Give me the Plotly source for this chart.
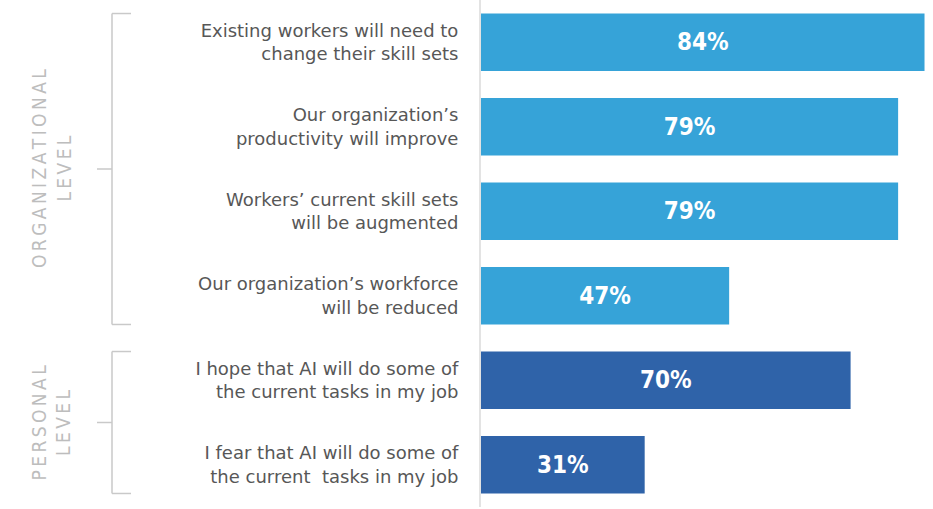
import plotly.graph_objects as go

categories = [
    "Existing workers will need to<br>change their skill sets",
    "Our organization’s<br>productivity will improve",
    "Workers’ current skill sets<br>will be augmented",
    "Our organization’s workforce<br>will be reduced",
    "I hope that AI will do some of<br>the current tasks in my job",
    "I fear that AI will do some of<br>the current  tasks in my job",
]
values = [84, 79, 79, 47, 70, 31]
value_labels = ["84%", "79%", "79%", "47%", "70%", "31%"]
groups = ["ORGANIZATIONAL LEVEL"] * 4 + ["PERSONAL LEVEL"] * 2
group_names = ["ORGANIZATIONAL", "PERSONAL"]

LIGHT = "#36A3D8"
DARK = "#2F63A9"
colors = [LIGHT if g.startswith("ORG") else DARK for g in groups]

W, H = 933, 509
ML, MR, MT, MB = 481, 0, 0, 2
PW = W - ML - MR
BARGAP = 0.32

fig = go.Figure(go.Bar(
    x=values, y=list(range(len(categories))), orientation="h",
    marker=dict(color=colors, line=dict(width=0)),
    text=value_labels, textposition="inside", insidetextanchor="middle",
    textfont=dict(family="DejaVu Sans Condensed, Liberation Sans Narrow, sans-serif",
                  size=24, color="white", weight="bold"),
    hoverinfo="skip",
))

def px2paper(px):
    return (px - ML) / PW

half = (1 - BARGAP) / 2
line_col = "#c9c9c9"
shapes = []
bracket_ranges = [(0, 3), (4, 5)]
for (i0, i1) in bracket_ranges:
    top = i0 - half
    bot = i1 + half
    mid = (i0 + i1) / 2
    xv = px2paper(112)
    xh = px2paper(131)
    xt = px2paper(97)
    for (x0, y0, x1, y1) in [(xv, top, xv, bot), (xv, top, xh, top), (xv, bot, xh, bot), (xt, mid, xv, mid)]:
        shapes.append(dict(type="line", xref="paper", yref="y", x0=x0, y0=y0, x1=x1, y1=y1,
                           line=dict(color=line_col, width=1.5)))

def spaced(s):
    return "\u2009".join(list(s))

annotations = []
for (i0, i1), name in zip(bracket_ranges, group_names):
    annotations.append(dict(
        x=px2paper(51), y=(i0 + i1) / 2, xref="paper", yref="y",
        text=spaced(name) + "<br>" + spaced("LEVEL"), showarrow=False, textangle=-90,
        font=dict(family="DejaVu Sans Condensed, Liberation Sans Narrow, sans-serif", size=19, color="#bdbdbd"),
        align="center", xanchor="center", yanchor="middle",
    ))

fig.update_layout(
    width=W, height=H,
    margin=dict(l=ML, r=MR, t=MT, b=MB),
    paper_bgcolor="white", plot_bgcolor="white",
    bargap=BARGAP, showlegend=False,
    xaxis=dict(range=[0, PW / 5.28], showgrid=False, zeroline=False, showticklabels=False, fixedrange=True),
    yaxis=dict(
        tickmode="array", tickvals=list(range(len(categories))), ticktext=categories,
        range=[len(categories) - 0.5, -0.5],
        showgrid=False, zeroline=False, showline=True, linecolor="#e3e3e3", linewidth=2,
        ticks="outside", ticklen=17, tickcolor="rgba(0,0,0,0)",
        tickfont=dict(family="DejaVu Sans, sans-serif", size=18, color="#575757"),
    ),
    shapes=shapes, annotations=annotations,
)

fig.write_html("out.html", config={"displayModeBar": False},
               post_script="document.body.style.margin='0';document.body.style.padding='0';")
